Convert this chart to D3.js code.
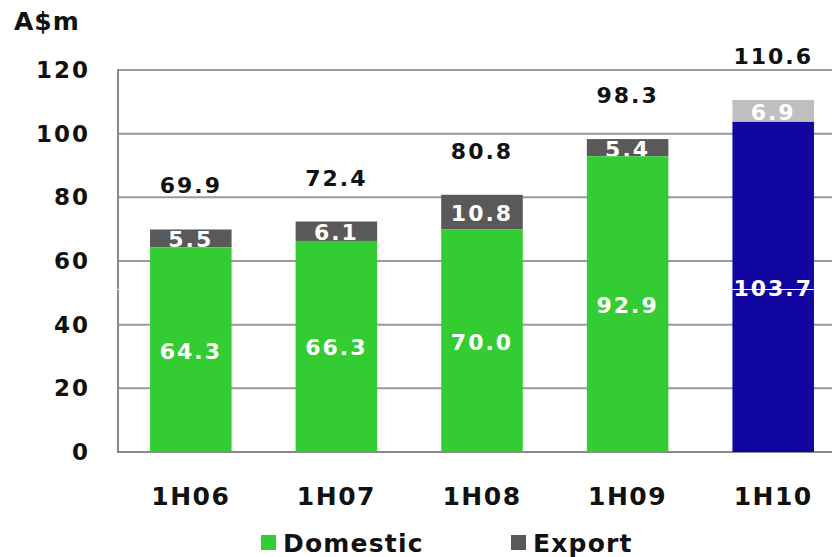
<!DOCTYPE html>
<html>
<head>
<meta charset="utf-8">
<script src="https://cdn.jsdelivr.net/npm/d3@7"></script>
<style>
  body { margin: 0; background: #fff; }
  text { font-family: "DejaVu Sans", Verdana, sans-serif; font-weight: bold; }
</style>
</head>
<body>
<script>
// chart data
var periods = ['1H06', '1H07', '1H08', '1H09', '1H10'];
var domestic = [64.3, 66.3, 70.0, 92.9, 103.7];
var exportVals = [5.5, 6.1, 10.8, 5.4, 6.9];
var totals = [69.9, 72.4, 80.8, 98.3, 110.6];
var yTicks = [0, 20, 40, 60, 80, 100, 120];

var W = 832, H = 557;
// plot box (window.top is reserved, so prefix names)
var plotLeft = 118, plotRight = 846, plotTop = 70, plotBottom = 452;

var svg = d3.select('body').append('svg')
  .attr('width', W)
  .attr('height', H);

var x = d3.scaleBand().domain(periods).range([plotLeft, plotRight]).paddingInner(0.44).paddingOuter(0.22);
var y = d3.scaleLinear().domain([0, 120]).range([plotBottom, plotTop]);

// gridlines
svg.append('g').selectAll('line')
  .data(yTicks.slice(1))
  .enter().append('line')
  .attr('x1', plotLeft).attr('x2', W)
  .attr('y1', function(d) { return y(d); })
  .attr('y2', function(d) { return y(d); })
  .attr('stroke', '#999').attr('stroke-width', 2);

// axis lines
svg.append('line').attr('x1', plotLeft).attr('x2', plotLeft).attr('y1', plotTop - 1).attr('y2', plotBottom + 1)
  .attr('stroke', '#888').attr('stroke-width', 2);
svg.append('line').attr('x1', plotLeft - 1).attr('x2', W).attr('y1', plotBottom).attr('y2', plotBottom)
  .attr('stroke', '#888').attr('stroke-width', 2);

// y tick labels
svg.append('g').selectAll('text')
  .data(yTicks)
  .enter().append('text')
  .attr('x', 90)
  .attr('y', function(d) { return y(d) + 8; })
  .attr('text-anchor', 'end')
  .attr('font-size', 23)
  .attr('letter-spacing', 2)
  .attr('fill', '#111')
  .text(function(d) { return d; });

svg.append('text').attr('x', 14).attr('y', 30)
  .attr('font-size', 25).attr('fill', '#111').attr('letter-spacing', 1)
  .text('A$m');

var last = periods.length - 1;

// export segments
svg.append('g').selectAll('rect')
  .data(periods)
  .enter().append('rect')
  .attr('x', function(d) { return x(d); })
  .attr('width', x.bandwidth())
  .attr('y', function(d, i) { return y(totals[i]); })
  .attr('height', function(d, i) { return y(domestic[i]) - y(totals[i]); })
  .attr('fill', function(d, i) { return i === last ? '#bfbfbf' : '#595959'; });

// export labels (partly hidden under domestic bars)
svg.append('g').selectAll('text')
  .data(periods)
  .enter().append('text')
  .attr('x', function(d) { return x(d) + x.bandwidth() / 2; })
  .attr('y', function(d, i) { return (y(totals[i]) + y(domestic[i])) / 2 + 9; })
  .attr('text-anchor', 'middle')
  .attr('font-size', 22).attr('letter-spacing', 2)
  .attr('fill', '#fff')
  .text(function(d, i) { return exportVals[i].toFixed(1); });

// domestic segments
svg.append('g').selectAll('rect')
  .data(periods)
  .enter().append('rect')
  .attr('x', function(d) { return x(d); })
  .attr('width', x.bandwidth())
  .attr('y', function(d, i) { return y(domestic[i]); })
  .attr('height', function(d, i) { return y(0) - y(domestic[i]); })
  .attr('fill', function(d, i) { return i === last ? '#1206a0' : '#33cc33'; });

// stray white rule seen in the original
var ruleY = Math.round(y(51.2)) + 0.5;
svg.append('line').attr('x1', plotLeft - 3).attr('x2', plotLeft + 3).attr('y1', ruleY).attr('y2', ruleY)
  .attr('stroke', '#fff').attr('stroke-width', 1);

// domestic labels
svg.append('g').selectAll('text')
  .data(periods)
  .enter().append('text')
  .attr('x', function(d) { return x(d) + x.bandwidth() / 2; })
  .attr('y', function(d, i) { return (y(0) + y(domestic[i])) / 2 + 9; })
  .attr('text-anchor', 'middle')
  .attr('font-size', 22).attr('letter-spacing', 2)
  .attr('fill', '#fff')
  .text(function(d, i) { return domestic[i].toFixed(1); });

svg.append('line').attr('x1', x(periods[last])).attr('x2', x(periods[last]) + x.bandwidth())
  .attr('y1', ruleY).attr('y2', ruleY)
  .attr('stroke', '#fff').attr('stroke-width', 1);

// totals
svg.append('g').selectAll('text')
  .data(periods)
  .enter().append('text')
  .attr('x', function(d) { return x(d) + x.bandwidth() / 2; })
  .attr('y', function(d, i) { return y(totals[i]) - 36; })
  .attr('text-anchor', 'middle')
  .attr('font-size', 22).attr('letter-spacing', 2)
  .attr('fill', '#111')
  .text(function(d, i) { return totals[i].toFixed(1); });

// category labels
svg.append('g').selectAll('text')
  .data(periods)
  .enter().append('text')
  .attr('x', function(d) { return x(d) + x.bandwidth() / 2; })
  .attr('y', 505)
  .attr('text-anchor', 'middle')
  .attr('font-size', 25).attr('letter-spacing', 1.5)
  .attr('fill', '#111')
  .text(function(d) { return d; });

// legend
var legend = [{ name: 'Domestic', color: '#33cc33', x: 261 }, { name: 'Export', color: '#595959', x: 511 }];
var lg = svg.append('g').selectAll('g').data(legend).enter().append('g')
  .attr('transform', function(d) { return 'translate(' + d.x + ',535)'; });
lg.append('rect').attr('width', 15).attr('height', 15).attr('fill', function(d) { return d.color; });
lg.append('text').attr('x', 22).attr('y', 17)
  .attr('font-size', 25).attr('letter-spacing', 1.2).attr('fill', '#111')
  .text(function(d) { return d.name; });
</script>
</body>
</html>
